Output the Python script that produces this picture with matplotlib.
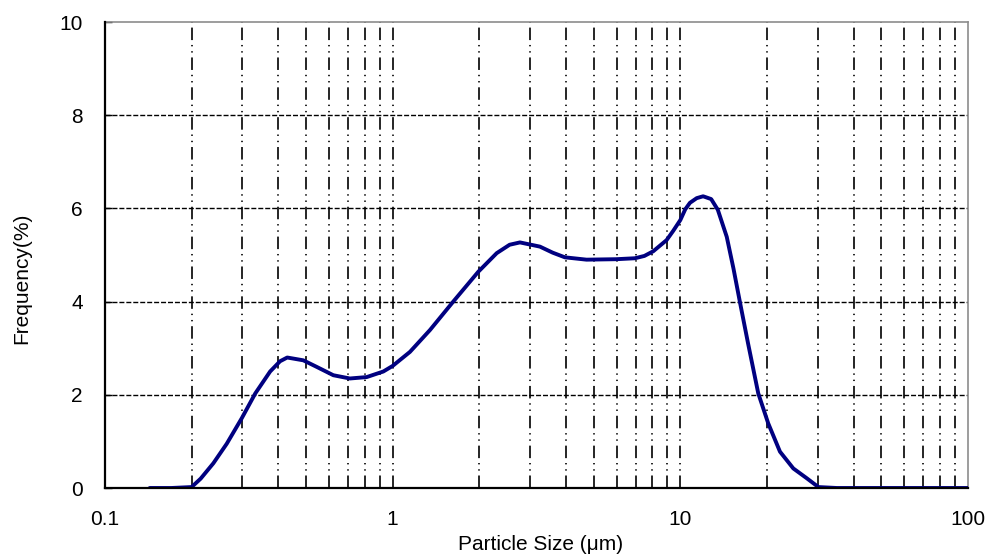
import numpy as np
import matplotlib
matplotlib.use("Agg")
import matplotlib.pyplot as plt

plt.rcParams['font.family'] = ['Liberation Sans', 'DejaVu Sans']
plt.rcParams['lines.scale_dashes'] = False

# particle size (um) and frequency (%)
size = [0.143, 0.17, 0.2, 0.215, 0.238, 0.265, 0.299, 0.333, 0.375, 0.406,
        0.43, 0.489, 0.544, 0.622, 0.71, 0.812, 0.928, 1.0, 1.148, 1.348,
        1.624, 1.984, 2.30, 2.55, 2.77, 3.25, 3.6, 3.97, 4.72, 6.0, 6.95,
        7.5, 8.05, 8.96, 9.45, 10.0, 10.4, 10.8, 11.4, 12.0, 12.8, 13.5,
        14.5, 15.3, 16.1, 17.2, 18.66, 20.2, 22.2, 24.7, 27.5, 30.2, 35.0,
        50.0, 100.0]
freq = [0.0, 0.0, 0.02, 0.2, 0.53, 0.95, 1.5, 2.03, 2.50, 2.72,
        2.80, 2.74, 2.60, 2.42, 2.35, 2.38, 2.50, 2.62, 2.92, 3.39,
        4.0, 4.64, 5.04, 5.22, 5.27, 5.18, 5.05, 4.95, 4.90, 4.91, 4.93,
        4.98, 5.08, 5.32, 5.52, 5.75, 5.98, 6.12, 6.22, 6.26, 6.20, 5.97,
        5.39, 4.71, 4.0, 3.1, 2.03, 1.39, 0.78, 0.42, 0.21, 0.02, 0.0,
        0.0, 0.0]

x_ticks = [0.1, 1, 10, 100]
x_labels = ['0.1', '1', '10', '100']
y_ticks = [0, 2, 4, 6, 8, 10]
grid_x = [m * d for d in (0.1, 1, 10) for m in range(2, 10)] + [1, 10]
grid_y = [2, 4, 6, 8]

fig = plt.figure(figsize=(9.91, 5.55), dpi=100)
ax = fig.add_axes([105 / 991, 1 - 488 / 555, 863 / 991, 466 / 555])

for gx in grid_x:
    ax.axvline(gx, color='black', lw=1.2,
               linestyle=(0, (9.0, 3.5, 1.0, 3.5, 1.0, 3.5)), zorder=1)
for gy in grid_y:
    ax.axhline(gy, color='black', lw=1.0, linestyle=(0, (3.6, 1.4)), zorder=1)

ax.plot(size, freq, color='#000080', lw=2.8, solid_capstyle='round',
        solid_joinstyle='round', zorder=3)

ax.set_xscale('log')
ax.set_xlim(0.1, 100)
ax.set_ylim(0, 10)
ax.set_xticks(x_ticks)
ax.set_xticklabels(x_labels)
ax.xaxis.set_minor_locator(matplotlib.ticker.NullLocator())
ax.set_yticks(y_ticks)
ax.tick_params(axis='x', length=0, pad=16, labelsize=15)
ax.tick_params(axis='y', direction='in', length=5, width=1, pad=16, labelsize=15)

for s in ('left', 'bottom'):
    ax.spines[s].set_linewidth(1.6)
    ax.spines[s].set_zorder(4)
for s in ('top', 'right'):
    ax.spines[s].set_color('#8c8c8c')
    ax.spines[s].set_linewidth(1.2)

fig.text(541 / 991, 1 - 545 / 555, 'Particle Size (\u03bcm)', ha='center',
         va='center', fontsize=15)
fig.text(22 / 991, 1 - 278 / 555, 'Frequency(%)', ha='center', va='center',
         rotation=90, fontsize=15)

fig.savefig('out.png', dpi=100)
